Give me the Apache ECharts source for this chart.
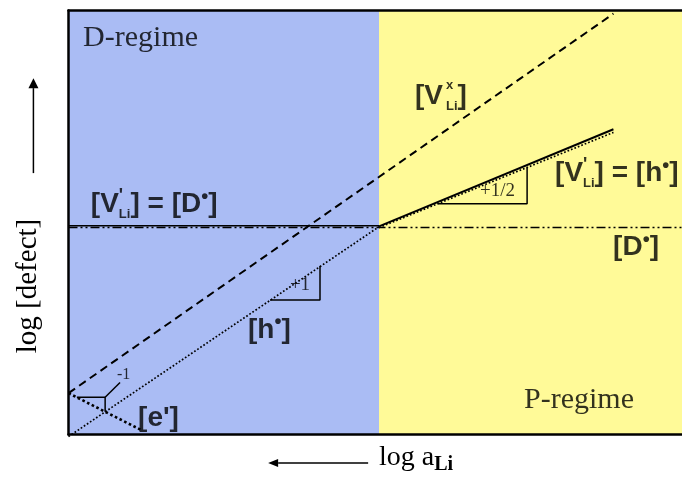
<!DOCTYPE html>
<html>
<head>
<meta charset="utf-8">
<script src="https://cdn.jsdelivr.net/npm/echarts/dist/echarts.min.js"></script>
<style>
  html, body { margin: 0; padding: 0; background: #ffffff; }
  #chart { width: 682px; height: 477px; }
</style>
</head>
<body>
<div id="chart"></div>
<script>
// Brouwer diagram: defect concentrations vs. lithium activity (log-log, schematic units)

// axis extents
const logARange = [0, 20];
const logDefectRange = [0, 20];
const regimeBoundary = 10;

// defect lines as [log aLi, log [defect]] end points
const vLiNeutral = [[0, 1.95], [17.55, 19.85]];     // [V_Li^x], slope +1
const holesD = [[0, -0.1], [10, 9.8]];               // [h•] in D-regime, slope +1
const electronsD = [[0, 1.95], [2.37, 0.19]];        // [e'], slope -1
const vLiEqualsD = [[0, 9.85], [10, 9.85]];          // [V_Li'] = [D•]
const donors = [[0, 9.76], [20, 9.76]];              // [D•]
const vLiEqualsH = [[10, 9.82], [17.55, 14.4]];      // [V_Li'] = [h•], slope +1/2
const holesP = [[10, 9.76], [17.55, 14.25]];         // [h•] in P-regime

// slope markers
const slopePlusOne = [[6.49, 6.35], [8.1, 6.35], [8.1, 7.95]];
const slopePlusHalf = [[11.9, 10.89], [14.77, 10.89], [14.77, 12.59]];
const slopeMinusOne = [[0.27, 1.76], [1.18, 1.76], [1.18, 1.07]];
const slopeMinusOneLeader = [[1.18, 1.76], [1.66, 2.45]];

// annotation texts
const defectTags = [
  "[V{pr|'}{sb|Li}] = [D{bu|•}]",
  "[V{pr|'}{sb|Li}] = [h{bu|•}]",
  "[V{sx|x}{sb|Li}]",
  "[D{bu|•}]",
  "[h{bu|•}]",
  "[e']"
];
const slopeTags = ['+1', '+1/2', '-1'];
const regimeTags = ['D-regime', 'P-regime'];
const axisTitleX = 'log a{sb|Li}';
const axisTitleY = 'log [defect]';

// where each annotation sits, in axis units
const defectTagAt = [[0.72, 10.87], [15.67, 12.33], [11.16, 15.97], [17.54, 8.84], [5.78, 4.93], [2.24, 0.78]];
const slopeTagAt = [[7.13, 7.07], [13.25, 11.5], [1.56, 2.83]];
const slopeTagSize = [19, 19, 16];
const regimeTagAt = [[0.47, 18.69], [14.67, 1.63]];

// direction arrows beside the axes: [tailX, tailY, tipX, tipY, headLength, headHalfWidth]
const axisArrows = [
  [-1.13, 12.33, -1.13, 16.81, 10, 5],
  [9.65, -1.34, 6.43, -1.34, 10, 4]
];

const SANS = '"Liberation Sans", Arial, sans-serif';
const SERIF = '"Liberation Serif", "Times New Roman", serif';
const BLUE = '#aabcf4';
const YELLOW = '#fffa98';

function path(name, pts, lineStyle, extra) {
  return Object.assign({
    type: 'line', name: name, data: pts, symbol: 'none', silent: true,
    lineStyle: Object.assign({ color: '#000' }, lineStyle), z: 3
  }, extra || {});
}

function tagSeries(name, texts, at, labelFor) {
  return {
    type: 'scatter', name: name, silent: true, clip: false, z: 6,
    symbol: 'circle', symbolSize: 0,
    data: texts.map((t, i) => ({ value: at[i], label: labelFor(t, i) }))
  };
}

function renderArrow(params, api) {
  const tail = api.coord([api.value(0), api.value(1)]);
  const tip = api.coord([api.value(2), api.value(3)]);
  const headLen = api.value(4);
  const headHalf = api.value(5);
  const dx = tip[0] - tail[0];
  const dy = tip[1] - tail[1];
  const len = Math.hypot(dx, dy) || 1;
  const ux = dx / len;
  const uy = dy / len;
  const base = [tip[0] - ux * headLen, tip[1] - uy * headLen];
  return {
    type: 'group',
    children: [
      { type: 'line', shape: { x1: tail[0], y1: tail[1], x2: base[0], y2: base[1] },
        style: { stroke: '#000', lineWidth: 1.5 } },
      { type: 'polygon',
        shape: { points: [tip, [base[0] - uy * headHalf, base[1] + ux * headHalf], [base[0] + uy * headHalf, base[1] - ux * headHalf]] },
        style: { fill: '#000' } }
    ]
  };
}

const kvRich = {
  pr: { fontFamily: SANS, fontWeight: 'bold', fontSize: 18, lineHeight: 16, verticalAlign: 'top', width: 0.01 },
  sx: { fontFamily: SANS, fontWeight: 'bold', fontSize: 13, lineHeight: 19, verticalAlign: 'top', width: 0.01, padding: [0, 0, 0, 3] },
  sb: { fontFamily: SANS, fontWeight: 'bold', fontSize: 13, lineHeight: 19, verticalAlign: 'bottom' },
  bu: { fontFamily: SANS, fontWeight: 'bold', fontSize: 20, lineHeight: 22, verticalAlign: 'top' }
};

const dashDotDot = [9, 3, 2, 3, 2, 3];

const option = {
  animation: false,
  backgroundColor: '#ffffff',
  grid: { left: 68.5, top: 10.5, width: 621, height: 424, containLabel: false, outerBoundsMode: 'none' },
  xAxis: [{
    type: 'value', min: logARange[0], max: logARange[1], z: 10,
    axisLine: { show: true, onZero: false, lineStyle: { color: '#000', width: 2.5 } },
    axisTick: { show: false }, axisLabel: { show: false }, splitLine: { show: false },
    name: axisTitleX, nameLocation: 'middle', nameGap: 6,
    nameTextStyle: {
      fontFamily: SERIF, fontSize: 28, lineHeight: 34, color: '#000', padding: [0, 0, 0, 74],
      rich: { sb: { fontFamily: SERIF, fontWeight: 'bold', fontSize: 20, lineHeight: 14, verticalAlign: 'bottom' } }
    }
  }, {
    type: 'value', position: 'top', min: logARange[0], max: logARange[1], z: 10,
    axisLine: { show: true, onZero: false, lineStyle: { color: '#000', width: 2.5 } },
    axisTick: { show: false }, axisLabel: { show: false }, splitLine: { show: false }
  }],
  yAxis: {
    type: 'value', min: logDefectRange[0], max: logDefectRange[1], z: 10,
    axisLine: { show: true, onZero: false, lineStyle: { color: '#000', width: 2.5 } },
    axisTick: { show: false }, axisLabel: { show: false }, splitLine: { show: false },
    name: axisTitleY, nameLocation: 'middle', nameRotate: 90, nameGap: 26,
    nameTextStyle: { fontFamily: SERIF, fontSize: 29, lineHeight: 29, color: '#000', padding: [0, 127, 0, 0] }
  },
  series: [
    path('[D•]', donors, { width: 1.5, type: dashDotDot }, {
      markArea: {
        silent: true, z: 1,
        label: { show: false },
        data: [
          [{ coord: [logARange[0], logDefectRange[0]], itemStyle: { color: BLUE } }, { coord: [regimeBoundary, logDefectRange[1]] }],
          [{ coord: [regimeBoundary, logDefectRange[0]], itemStyle: { color: YELLOW } }, { coord: [logARange[1], logDefectRange[1]] }]
        ]
      }
    }),
    path('[V_Li^x]', vLiNeutral, { width: 2, type: [8, 5] }),
    path('[h•] D', holesD, { width: 1.7, type: [1.7, 2] }, { clip: false }),
    path("[e']", electronsD, { width: 2.6, type: [2.6, 2.6] }),
    path("[V_Li'] = [D•]", vLiEqualsD, { width: 1.6 }),
    path("[V_Li'] = [h•]", vLiEqualsH, { width: 2 }),
    path('[h•] P', holesP, { width: 1.7, type: [1.7, 2] }),
    path('slope +1', slopePlusOne, { width: 1.5 }),
    path('slope +1/2', slopePlusHalf, { width: 1.5 }),
    path('slope -1', slopeMinusOne, { width: 1.5 }),
    path('slope -1 leader', slopeMinusOneLeader, { width: 1.5 }),
    {
      type: 'custom', name: 'axis arrows', silent: true, clip: false, z: 5,
      encode: { x: [0, 2], y: [1, 3] },
      data: axisArrows,
      renderItem: renderArrow
    },
    tagSeries('defect tags', defectTags, defectTagAt, (t) => ({
      show: true, position: 'right', distance: 0, formatter: t,
      fontFamily: SANS, fontWeight: 'bold', fontSize: 28, lineHeight: 34, color: '#000', rich: kvRich
    })),
    tagSeries('slope tags', slopeTags, slopeTagAt, (t, i) => ({
      show: true, position: 'right', distance: 0, formatter: t,
      fontFamily: SERIF, fontSize: slopeTagSize[i], lineHeight: slopeTagSize[i], color: '#000'
    })),
    tagSeries('regime tags', regimeTags, regimeTagAt, (t) => ({
      show: true, position: 'right', distance: 0, formatter: t,
      fontFamily: SERIF, fontSize: 30, lineHeight: 30, color: '#000'
    }))
  ]
};

const chart = echarts.init(document.getElementById('chart'), null, { renderer: 'canvas' });
chart.setOption(option);
</script>
</body>
</html>
